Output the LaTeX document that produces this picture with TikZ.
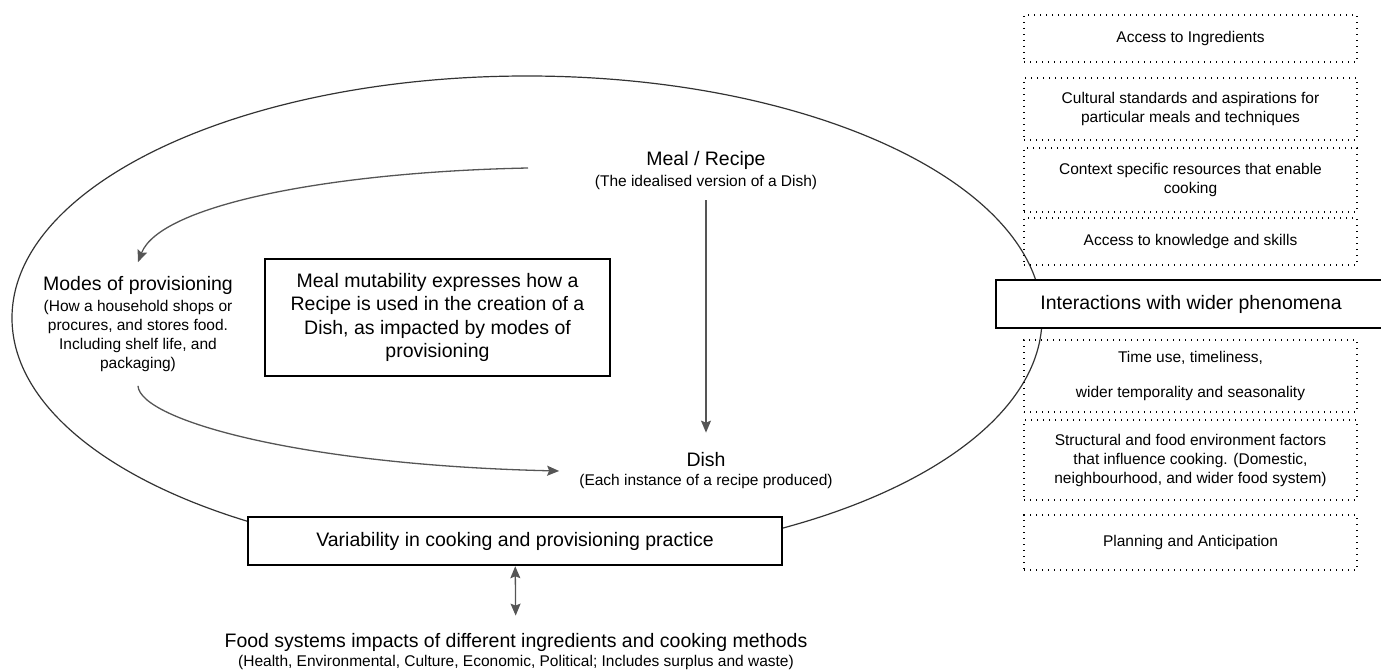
\documentclass[tikz,border=0pt]{standalone}
\usepackage{fontspec}
\setmainfont{Liberation Sans}
\usetikzlibrary{arrows.meta}
\definecolor{arrowgray}{HTML}{555555}
\definecolor{ringgray}{HTML}{333333}
\newcommand{\mmbig}{\fontsize{19.5}{23.3}\selectfont}
\newcommand{\mmsmall}{\fontsize{15.5}{19}\selectfont}
\begin{document}
\begin{tikzpicture}[x=1pt,y=-1pt,
                    phen/.style={draw=black,line width=1.4pt,dash pattern=on 1.4pt off 4.6pt,minimum width=333pt,align=center,font=\mmsmall,inner sep=2pt},
                    frame/.style={draw=black,line width=2.5pt,fill=white,font=\mmbig,inner sep=0pt},
                    part/.style={align=center,font=\mmsmall,text=black},
                    arr/.style={draw=arrowgray,line width=1.3pt,-{Stealth[length=12pt,width=10pt,inset=2pt]}},
                    arrboth/.style={draw=arrowgray,line width=1.3pt,{Stealth[length=12pt,width=10pt,inset=2pt]}-{Stealth[length=12pt,width=10pt,inset=2pt]}}
                ]
                    \useasboundingbox (0,0) rectangle (1381,671);

                    % the ring of variability
                    \draw[draw=ringgray,line width=1.2pt] (527,318) ellipse [x radius=515pt, y radius=242pt];

                    % wider phenomena on the right
                    \foreach \n/\yc/\h/\txt in {acc/38.5/47/{Access to Ingredients},
                                                cult/109/62/{Cultural standards and aspirations for\\particular meals and techniques},
                                                res/180/64/{Context specific resources that enable\\cooking},
                                                know/241.5/47/{Access to knowledge and skills},
                                                time/376/72/{Time use, timeliness,\\[16pt]wider temporality and seasonality},
                                                env/460/80/{Structural and food environment factors\\that influence cooking. (Domestic,\\neighbourhood, and wider food system)},
                                                plan/542.5/55/{Planning and Anticipation}}
                        {
                        \node[phen,minimum height=\h pt] (\n) at (1190.5,\yc) {\txt};
                    }

                    \node[frame,minimum width=390pt,minimum height=48pt] (inter) at (1191,304) {Interactions with wider phenomena};
                    \node[frame,minimum width=534pt,minimum height=48pt] (var) at (515,541) {Variability in cooking and provisioning practice};
                    \node[draw=black,line width=1.8pt,align=center,font=\mmbig,minimum width=345pt,minimum height=117pt] (mut) at (437.5,317.5)
                        {Meal mutability expresses how a\\Recipe is used in the creation of a\\Dish, as impacted by modes of\\provisioning};

                    \node[part,inner sep=10pt] (meal) at (706,171) {{\mmbig Meal / Recipe}\\[2pt](The idealised version of a Dish)};
                    \node[part,inner sep=20pt] (dish) at (706,471) {{\mmbig Dish}\\(Each instance of a recipe produced)};
                    \node[part,inner sep=14pt] (modes) at (138,324) {{\mmbig Modes of provisioning}\\[2pt](How a household shops or\\procures, and stores food.\\Including shelf life, and\\packaging)};
                    \node[part,inner xsep=4pt,inner ysep=18pt] (food) at (516,652) {{\mmbig Food systems impacts of different ingredients and cooking methods}\\(Health, Environmental, Culture, Economic, Political; Includes surplus and waste)};

                    \coordinate (mealL) at (528,168);
                    \draw[arr] (mealL) .. controls (330,172) and (160,205) .. (modes.north);
                    \draw[arr] (modes.south) .. controls (140,420) and (300,465) .. (dish.west);
                    \draw[arr] (meal) -- (dish);
                    \draw[arrboth] (var) -- (food);

                \end{tikzpicture}
\end{document}
